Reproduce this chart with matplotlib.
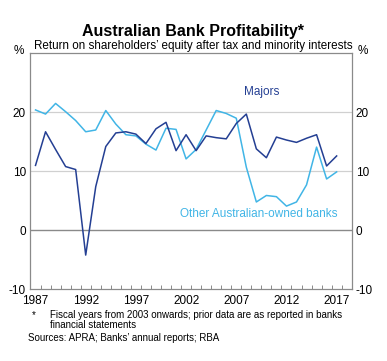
import matplotlib.pyplot as plt
import numpy as np

plt.rcParams['font.family'] = ['Liberation Sans', 'DejaVu Sans']

years = np.arange(1987, 2018)
majors = [11.0, 16.7, 13.7, 10.8, 10.3, -4.2, 7.4, 14.2, 16.5, 16.7, 16.3,
          14.7, 17.2, 18.3, 13.5, 16.2, 13.5, 16.0, 15.7, 15.5, 18.1, 19.7,
          13.8, 12.3, 15.8, 15.3, 14.9, 15.6, 16.2, 10.9, 12.6]
others = [20.4, 19.7, 21.5, 20.1, 18.6, 16.7, 17.0, 20.3, 18.0, 16.2, 16.0,
          14.6, 13.6, 17.3, 17.1, 12.1, 13.7, 17.0, 20.3, 19.8, 19.0, 10.7,
          4.8, 5.9, 5.7, 4.1, 4.8, 7.7, 14.1, 8.7, 9.9]
tick_years = [1987, 1992, 1997, 2002, 2007, 2012, 2017]
yticks = [-10, 0, 10, 20]

dark = '#243f93'
light = '#41b5e6'

fig = plt.figure(figsize=(3.87, 3.61), dpi=100)
ax = fig.add_axes([0.0775, 0.1986, 0.8313, 0.6538])

ax.axhline(0, color='#8a8a8a', lw=1.0, zorder=1)
for v in [10, 20]:
    ax.axhline(v, color='#d0d0d0', lw=0.9, zorder=1)

ax.plot(years, others, color=light, lw=1.1, zorder=3)
ax.plot(years, majors, color=dark, lw=1.1, zorder=4)

ax.set_xlim(1986.45, 2018.5)
ax.set_ylim(-10, 30)

ax.set_xticks(tick_years)
ax.set_xticklabels([str(y) for y in tick_years], fontsize=8.5)
ax.set_xticks(np.arange(1986.5, 2018.5, 1), minor=True)
ax.tick_params(axis='x', which='major', length=0, pad=4)
ax.tick_params(axis='x', which='minor', length=3, direction='in',
               color='#8a8a8a', width=0.7)

ax.set_yticks(yticks)
ax.set_yticklabels([str(v) for v in yticks], fontsize=8.5)
ax.tick_params(axis='y', length=0, pad=3, labelright=True)

for s in ax.spines.values():
    s.set_color('#8a8a8a')
    s.set_linewidth(0.9)

fig.text(0.062, 0.86, '%', fontsize=8.5, ha='right', va='center')
fig.text(0.923, 0.86, '%', fontsize=8.5, ha='left', va='center')

ax.text(2009.5, 23.5, 'Majors', color=dark, fontsize=8.5, ha='center', va='center')
ax.text(2009.2, 2.8, 'Other Australian-owned banks', color=light, fontsize=8.5,
        ha='center', va='center')

fig.text(0.5, 0.912, 'Australian Bank Profitability*', fontsize=11.5,
         fontweight='bold', ha='center', va='center')
fig.text(0.5, 0.873, 'Return on shareholders\u2019 equity after tax and minority interests',
         fontsize=8.4, ha='center', va='center')

fig.text(0.082, 0.127, '*', fontsize=7, ha='left', va='center')
fig.text(0.13, 0.127, 'Fiscal years from 2003 onwards; prior data are as reported in banks',
         fontsize=7, ha='left', va='center')
fig.text(0.13, 0.099, 'financial statements', fontsize=7, ha='left', va='center')
fig.text(0.073, 0.064, 'Sources: APRA; Banks\u2019 annual reports; RBA', fontsize=7,
         ha='left', va='center')

fig.savefig('out.png', dpi=100)
